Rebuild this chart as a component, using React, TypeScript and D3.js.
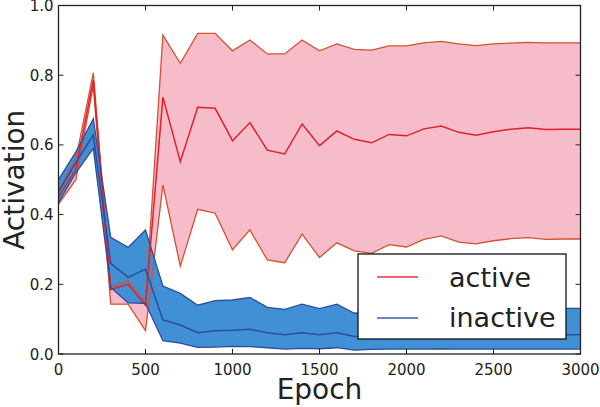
import React from "react";
import * as d3 from "d3";

const epochs = [0,100,200,300,400,500,600,700,800,900,1000,1100,1200,1300,1400,1500,1600,1700,1800,1900,2000,2100,2200,2300,2400,2500,2600,2700,2800,2900,3000];

const activeUpper = [0.47,0.56,0.807,0.191,0.210,0.146,0.915,0.834,0.920,0.920,0.870,0.901,0.861,0.861,0.901,0.870,0.890,0.874,0.872,0.884,0.884,0.893,0.897,0.890,0.885,0.890,0.892,0.894,0.893,0.893,0.893];
const activeMean = [0.45,0.53,0.786,0.185,0.200,0.140,0.737,0.552,0.708,0.705,0.612,0.664,0.585,0.574,0.660,0.598,0.640,0.616,0.606,0.630,0.626,0.646,0.654,0.636,0.628,0.638,0.645,0.649,0.644,0.645,0.645];
const activeLower = [0.43,0.50,0.77,0.143,0.143,0.067,0.485,0.252,0.415,0.404,0.299,0.356,0.270,0.262,0.344,0.277,0.319,0.296,0.289,0.314,0.307,0.329,0.339,0.321,0.316,0.325,0.331,0.334,0.329,0.330,0.330];

const inactiveUpper = [0.50,0.58,0.675,0.335,0.306,0.356,0.195,0.174,0.140,0.153,0.155,0.162,0.134,0.128,0.143,0.130,0.143,0.117,0.122,0.128,0.126,0.130,0.132,0.128,0.127,0.130,0.131,0.132,0.131,0.131,0.131];
const inactiveMean = [0.465,0.55,0.628,0.260,0.220,0.243,0.098,0.083,0.061,0.067,0.068,0.071,0.061,0.055,0.061,0.055,0.061,0.050,0.052,0.055,0.055,0.056,0.056,0.055,0.055,0.055,0.055,0.056,0.055,0.055,0.055];
const inactiveLower = [0.435,0.52,0.59,0.191,0.147,0.145,0.038,0.031,0.019,0.020,0.022,0.021,0.018,0.014,0.016,0.015,0.018,0.011,0.013,0.014,0.014,0.014,0.015,0.014,0.014,0.014,0.014,0.014,0.014,0.014,0.014];

const xTicks = [0,500,1000,1500,2000,2500,3000];
const yTicks = [0.0,0.2,0.4,0.6,0.8,1.0];

const W = 600, H = 407;
const L = 58.5, R = 580.5, T = 5.5, B = 354;
const FONT = "'DejaVu Sans', sans-serif";

export default function App() {
  const x = d3.scaleLinear().domain([0, 3000]).range([L, R]);
  const y = d3.scaleLinear().domain([0, 1]).range([B, T]);
  const idx = epochs.map((_, i) => i);

  const area = (lo: number[], hi: number[]) =>
    d3.area<number>().x(i => x(epochs[i])).y0(i => y(lo[i])).y1(i => y(hi[i]))(idx) || "";
  const line = (v: number[]) =>
    d3.line<number>().x(i => x(epochs[i])).y(i => y(v[i]))(idx) || "";

  const pink = "#f7bcc9";
  const redEdge = "#d4502f";
  const redMean = "#e0202f";
  const blueFill = "#4190d6";
  const blueLine = "#2c4d9e";
  const axisCol = "#222";

  return (
    <div style={{ position: "absolute", left: 0, top: 0 }}>
      <svg width={W} height={H} style={{ display: "block", background: "#fff" }}>
        <defs>
          <clipPath id="plotclip">
            <rect x={L} y={T} width={R - L} height={B - T} />
          </clipPath>
        </defs>
        <g clipPath="url(#plotclip)">
          <path d={area(activeLower, activeUpper)} fill={pink} stroke="none" />
          <path d={area(inactiveLower, inactiveUpper)} fill={blueFill} stroke="none" />
          <path d={line(activeUpper)} fill="none" stroke={redEdge} strokeWidth={1.3} />
          <path d={line(activeLower)} fill="none" stroke={redEdge} strokeWidth={1.3} />
          <path d={line(activeMean)} fill="none" stroke={redMean} strokeWidth={1.5} />
          <path d={line(inactiveUpper)} fill="none" stroke={blueLine} strokeWidth={1.3} />
          <path d={line(inactiveLower)} fill="none" stroke={blueLine} strokeWidth={1.3} />
          <path d={line(inactiveMean)} fill="none" stroke={blueLine} strokeWidth={1.5} />
        </g>
        <rect x={L} y={T} width={R - L} height={B - T} fill="none" stroke={axisCol} strokeWidth={1.3} />
        {xTicks.map(t => (
          <g key={"xt" + t}>
            <line x1={x(t)} x2={x(t)} y1={B} y2={B - 5} stroke={axisCol} strokeWidth={1} />
            <line x1={x(t)} x2={x(t)} y1={T} y2={T + 5} stroke={axisCol} strokeWidth={1} />
            <text x={x(t)} y={375} textAnchor="middle" fontFamily={FONT} fontSize={15} fill={axisCol}>{t}</text>
          </g>
        ))}
        {yTicks.map(t => (
          <g key={"yt" + t}>
            <line x1={L} x2={L + 5} y1={y(t)} y2={y(t)} stroke={axisCol} strokeWidth={1} />
            <line x1={R} x2={R - 5} y1={y(t)} y2={y(t)} stroke={axisCol} strokeWidth={1} />
            <text x={L - 5} y={y(t) + 5.5} textAnchor="end" fontFamily={FONT} fontSize={15} fill={axisCol}>{t.toFixed(1)}</text>
          </g>
        ))}
        <text x={(L + R) / 2} y={399} textAnchor="middle" fontFamily={FONT} fontSize={28} fill={axisCol}>Epoch</text>
        <text transform={`translate(24, ${(T + B) / 2}) rotate(-90)`} textAnchor="middle" fontFamily={FONT} fontSize={28} fill={axisCol}>Activation</text>
        <rect x={358} y={254} width={208} height={85} fill="#fff" stroke="#111" strokeWidth={1.3} />
        <line x1={377} x2={418} y1={277} y2={277} stroke="#e8353b" strokeWidth={1.5} />
        <line x1={377} x2={418} y1={318} y2={318} stroke="#3d5fad" strokeWidth={1.5} />
        <text x={449} y={287} fontFamily={FONT} fontSize={27} fill={axisCol}>active</text>
        <text x={449} y={327} fontFamily={FONT} fontSize={27} fill={axisCol}>inactive</text>
      </svg>
    </div>
  );
}
